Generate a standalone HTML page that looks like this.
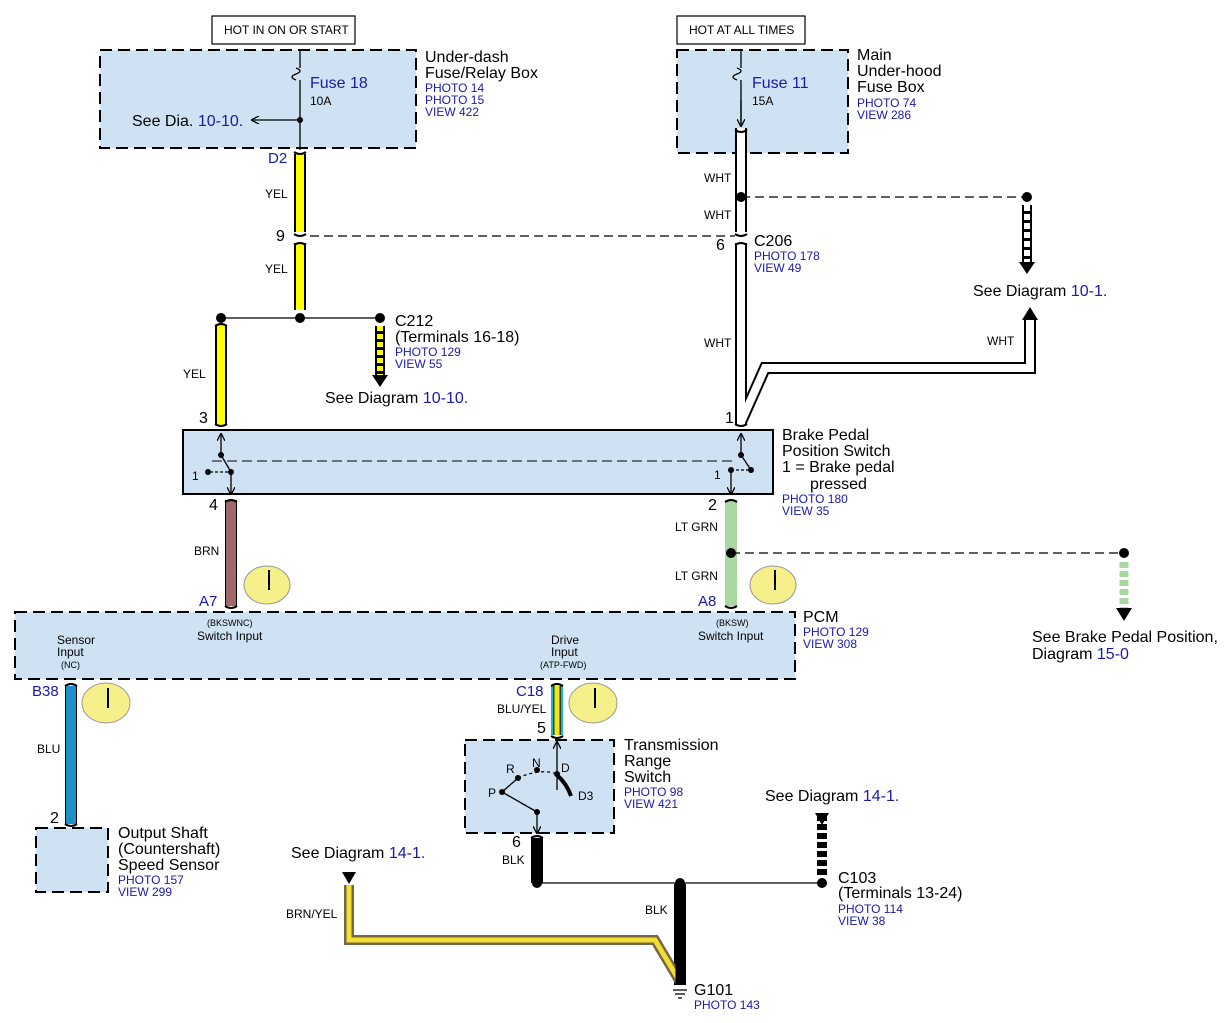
<!DOCTYPE html>
<html><head><meta charset="utf-8"><style>
body{margin:0;background:#fff}
svg{display:block}
text{font-family:"Liberation Sans",sans-serif;fill:#000}
.b{fill:#1a1aa8}
.s{font-size:12px}
.m{font-size:16px}
</style></head><body>
<svg width="1230" height="1023" viewBox="0 0 1230 1023" xmlns="http://www.w3.org/2000/svg">
<defs>
<marker id="ah" markerWidth="8" markerHeight="8" refX="7" refY="4" orient="auto" markerUnits="userSpaceOnUse"><path d="M0,0 L8,4 L0,8" fill="none" stroke="#000" stroke-width="1.3"/></marker>
</defs>
<g fill="#cfe2f3" stroke="#000" stroke-width="2">
<rect x="100" y="50" width="316" height="98" stroke-dasharray="12,6"/>
<rect x="677" y="50" width="171" height="103" stroke-dasharray="12,6"/>
<rect x="183" y="430" width="590" height="64"/>
<rect x="15" y="612" width="780" height="67" stroke-dasharray="12,6"/>
<rect x="465" y="740" width="149" height="93" stroke-dasharray="12,6"/>
<rect x="36" y="828" width="72" height="64" stroke-dasharray="12,6"/>
</g>
<g fill="#fff" stroke="#000" stroke-width="1.2">
<rect x="212" y="16" width="143" height="28"/>
<rect x="677" y="16" width="128" height="28"/>
</g>
<text x="224" y="34" style="font-size:12px">HOT IN ON OR START</text>
<text x="689" y="34" style="font-size:12px">HOT AT ALL TIMES</text>

<g fill="none" stroke-linejoin="miter">
<g stroke="#000" stroke-width="12">
<path d="M300 154 V232 M300 243 V310 M221 325 V425 M231 500 V606 M71 686 V824 M557 686 V735 M537 838 V883 M680 884 V985"/>
<path d="M741 128 V232 M741 243 V425 M741 422 L765 368 H1030 V318"/>
</g>
<path d="M349 885 V940 H655 L680 982" stroke="#7a6448" stroke-width="10"/>
<path d="M300 154 V232 M300 243 V310 M221 325 V425" stroke="#ffff00" stroke-width="8"/>
<path d="M741 128 V232 M741 243 V425 M741 422 L765 368 H1030 V318" stroke="#fff" stroke-width="8"/>
<path d="M231 500 V606" stroke="#a06868" stroke-width="10" />
<path d="M731 500 V606" stroke="#a8d8a0" stroke-width="12"/>
<path d="M71 686 V824" stroke="#1e90c8" stroke-width="10"/>
<path d="M557 686 V735" stroke="#20b0d0" stroke-width="12"/>
<path d="M557 686 V735" stroke="#2a3a10" stroke-width="8"/>
<path d="M557 686 V735" stroke="#e8e820" stroke-width="5"/>
<path d="M349 885 V940 H655 L680 982" stroke="#f0e030" stroke-width="5"/>
<path d="M537 838 V883 M680 884 V985" stroke="#000" stroke-width="9"/>
</g>
<path d="M380 326 V375" stroke="#000" stroke-width="10" fill="none"/>
<path d="M380 326 V375" stroke="#ffff00" stroke-width="6" stroke-dasharray="5,3" fill="none"/>
<path d="M1027 205 V262" stroke="#000" stroke-width="10" fill="none"/>
<path d="M1027 205 V262" stroke="#fff" stroke-width="6" stroke-dasharray="6,3" fill="none"/>
<path d="M1124 562 V608" stroke="#a8d8a0" stroke-width="9" stroke-dasharray="6,3" fill="none"/>
<path d="M822 815 V875" stroke="#000" stroke-width="10" stroke-dasharray="6,3" fill="none"/>
<g fill="#000">
<polygon points="372,375 388,375 380,387"/>
<polygon points="1019,262 1035,262 1027,274"/>
<polygon points="1022,320 1038,320 1030,307"/>
<polygon points="1116,608 1132,608 1124,621"/>
<polygon points="342,872 356,872 349,884"/>
<polygon points="815,813 829,813 822,825"/>
</g>
<g stroke="#000" stroke-width="1.3" fill="none">
<path d="M300 50 V68 M300 80 V120 M300 120 V150 M741 50 V68 M741 80 V126" />
<path d="M296 68 q8 3 0 6 q-8 3 0 6 M737 68 q8 3 0 6 q-8 3 0 6"/>
<path d="M300 120 H252" marker-end="url(#ah)"/>
<path d="M741 100 V126" marker-end="url(#ah)"/>
<path d="M221 318 H380"/>
<path d="M310 236 H735 M741 197 H1027" stroke-dasharray="9,5"/>
<path d="M731 553 H1124" stroke-dasharray="9,5"/>
<path d="M537 883 H822"/>
<path d="M212 461 H736" stroke-dasharray="10,5" stroke-width="1"/>
<path d="M221 455 V434" marker-end="url(#ah)"/>
<path d="M221 455 L231 472"/><path d="M231 472 V494" marker-end="url(#ah)"/>
<path d="M210 472 H231" stroke-dasharray="3,2"/>
<path d="M741 455 V434" marker-end="url(#ah)"/>
<path d="M741 455 L751 470"/>
<path d="M731 470 H751" stroke-dasharray="3,2"/>
<path d="M731 470 V494" marker-end="url(#ah)"/>
<path d="M557 790 V742" marker-end="url(#ah)"/>
<path d="M537 812 V833" marker-end="url(#ah)"/>
<path d="M537 812 L502 792 L518 778"/>
<path d="M518 778 Q540 768 557 774" stroke-dasharray="3,3"/>
<path d="M557 775 Q567 784 571 796" stroke-width="4"/>
<path d="M673 990 H687 M675 994 H685 M678 998 H682"/>
<path d="M294 152 q6 4 12 0 M294 234 q6 4 12 0 M294 245 q6 -4 12 0 M215 326 q6 -4 12 0 M215 424 q6 4 12 0 M225 502 q6 -4 12 0 M225 606 q6 4 12 0 M735 130 q6 4 12 0 M735 234 q6 4 12 0 M735 245 q6 -4 12 0 M735 424 q6 4 12 0 M725 502 q6 -4 12 0 M725 606 q6 4 12 0 M65 686 q6 -4 12 0 M65 824 q6 4 12 0 M551 686 q6 -4 12 0 M551 736 q6 4 12 0 M531 838 q6 -4 12 0" stroke-width="2"/>
</g>
<g fill="#000">
<circle cx="300" cy="120" r="3"/><circle cx="300" cy="318" r="5"/><circle cx="221" cy="318" r="5"/><circle cx="380" cy="318" r="5"/>
<circle cx="741" cy="197" r="5"/><circle cx="1027" cy="197" r="5"/><circle cx="731" cy="553" r="5"/><circle cx="1124" cy="553" r="5"/>
<circle cx="537" cy="883" r="5"/><circle cx="680" cy="883" r="5"/><circle cx="822" cy="883" r="5"/>
<circle cx="221" cy="455" r="3"/><circle cx="231" cy="472" r="3"/><circle cx="208" cy="472" r="3"/>
<circle cx="741" cy="455" r="3"/><circle cx="751" cy="470" r="3"/><circle cx="731" cy="470" r="3"/>
<circle cx="537" cy="812" r="3"/><circle cx="502" cy="792" r="3"/><circle cx="518" cy="778" r="3"/><circle cx="537" cy="770" r="3"/><circle cx="557" cy="774" r="3"/>
</g>
<g fill="#f5f08a" stroke="#999" stroke-width="1">
<ellipse cx="267" cy="585" rx="23" ry="19"/><ellipse cx="773" cy="585" rx="23" ry="19"/>
<ellipse cx="106" cy="703" rx="24" ry="20"/><ellipse cx="593" cy="703" rx="24" ry="20"/>
</g>
<g stroke="#000" stroke-width="2"><path d="M269 570 V590 M775 570 V590 M108 688 V708 M595 688 V708"/></g>

<text x="425" y="62" class="m">Under-dash</text><text x="425" y="78" class="m">Fuse/Relay Box</text>
<text x="425" y="92" class="s b">PHOTO 14</text><text x="425" y="104" class="s b">PHOTO 15</text><text x="425" y="116" class="s b">VIEW 422</text>
<text x="310" y="88" class="b" style="font-size:16px">Fuse 18</text><text x="310" y="105" class="s">10A</text>
<text x="132" y="126" class="m">See Dia. <tspan style="fill:#1a1aa8">10-10.</tspan></text>
<text x="857" y="60" class="m">Main</text><text x="857" y="76" class="m">Under-hood</text><text x="857" y="92" class="m">Fuse Box</text>
<text x="857" y="107" class="s b">PHOTO 74</text><text x="857" y="119" class="s b">VIEW 286</text>
<text x="752" y="88" class="b" style="font-size:16px">Fuse 11</text><text x="752" y="105" class="s">15A</text>
<text x="268" y="163" class="b" style="font-size:15px">D2</text>
<text x="265" y="198" class="s">YEL</text><text x="265" y="273" class="s">YEL</text><text x="276" y="241" class="m">9</text>
<text x="183" y="378" class="s">YEL</text><text x="199" y="423" class="m">3</text>
<text x="395" y="326" class="m">C212</text><text x="395" y="342" class="m">(Terminals 16-18)</text>
<text x="395" y="356" class="s b">PHOTO 129</text><text x="395" y="368" class="s b">VIEW 55</text>
<text x="325" y="403" class="m">See  Diagram <tspan style="fill:#1a1aa8">10-10.</tspan></text>
<text x="704" y="182" class="s">WHT</text><text x="704" y="219" class="s">WHT</text><text x="716" y="250" class="m">6</text>
<text x="754" y="246" class="m">C206</text><text x="754" y="260" class="s b">PHOTO 178</text><text x="754" y="272" class="s b">VIEW 49</text>
<text x="704" y="347" class="s">WHT</text><text x="987" y="345" class="s">WHT</text><text x="725" y="423" class="m">1</text>
<text x="973" y="296" class="m">See Diagram <tspan style="fill:#1a1aa8">10-1.</tspan></text>
<text x="782" y="440" class="m">Brake Pedal</text><text x="782" y="456" class="m">Position Switch</text>
<text x="782" y="472" class="m">1 = Brake pedal</text><text x="810" y="489" class="m">pressed</text>
<text x="782" y="503" class="s b">PHOTO 180</text><text x="782" y="515" class="s b">VIEW 35</text>
<text x="192" y="480" class="s">1</text><text x="714" y="479" class="s">1</text>
<text x="209" y="510" class="m">4</text><text x="708" y="510" class="m">2</text>
<text x="194" y="555" class="s">BRN</text><text x="675" y="531" class="s">LT GRN</text><text x="675" y="580" class="s">LT GRN</text>
<text x="199" y="606" class="b" style="font-size:15px">A7</text><text x="698" y="606" class="b" style="font-size:15px">A8</text>
<text x="803" y="622" class="m">PCM</text><text x="803" y="636" class="s b">PHOTO 129</text><text x="803" y="648" class="s b">VIEW 308</text>
<text x="207" y="626" style="font-size:9px">(BKSWNC)</text><text x="197" y="640" class="s">Switch Input</text>
<text x="716" y="626" style="font-size:9px">(BKSW)</text><text x="698" y="640" class="s">Switch Input</text>
<text x="57" y="644" class="s">Sensor</text><text x="57" y="656" class="s">Input</text><text x="61" y="668" style="font-size:9px">(NC)</text>
<text x="551" y="644" class="s">Drive</text><text x="551" y="656" class="s">Input</text><text x="540" y="668" style="font-size:9px">(ATP-FWD)</text>
<text x="1032" y="642" class="m">See Brake Pedal Position,</text><text x="1032" y="659" class="m">Diagram <tspan style="fill:#1a1aa8">15-0</tspan></text>
<text x="32" y="696" class="b" style="font-size:15px">B38</text><text x="37" y="753" class="s">BLU</text>
<text x="50" y="823" class="m">2</text>
<text x="118" y="838" class="m">Output Shaft</text><text x="118" y="854" class="m">(Countershaft)</text><text x="118" y="870" class="m">Speed Sensor</text>
<text x="118" y="884" class="s b">PHOTO 157</text><text x="118" y="896" class="s b">VIEW 299</text>
<text x="516" y="696" class="b" style="font-size:15px">C18</text><text x="497" y="713" class="s">BLU/YEL</text><text x="537" y="733" class="m">5</text>
<text x="624" y="750" class="m">Transmission</text><text x="624" y="766" class="m">Range</text><text x="624" y="782" class="m">Switch</text>
<text x="624" y="796" class="s b">PHOTO 98</text><text x="624" y="808" class="s b">VIEW 421</text>
<text x="506" y="773" class="s">R</text><text x="532" y="767" class="s">N</text><text x="561" y="772" class="s">D</text><text x="488" y="797" class="s">P</text><text x="578" y="800" class="s">D3</text>
<text x="512" y="847" class="m">6</text><text x="502" y="864" class="s">BLK</text>
<text x="645" y="914" class="s">BLK</text>
<text x="765" y="801" class="m">See  Diagram  <tspan style="fill:#1a1aa8">14-1.</tspan></text>
<text x="291" y="858" class="m">See Diagram <tspan style="fill:#1a1aa8">14-1.</tspan></text>
<text x="286" y="918" class="s">BRN/YEL</text>
<text x="838" y="883" class="m">C103</text><text x="838" y="898" class="m">(Terminals 13-24)</text>
<text x="838" y="913" class="s b">PHOTO 114</text><text x="838" y="925" class="s b">VIEW 38</text>
<text x="694" y="995" class="m">G101</text><text x="694" y="1009" class="s b">PHOTO 143</text>
</svg>
</body></html>
